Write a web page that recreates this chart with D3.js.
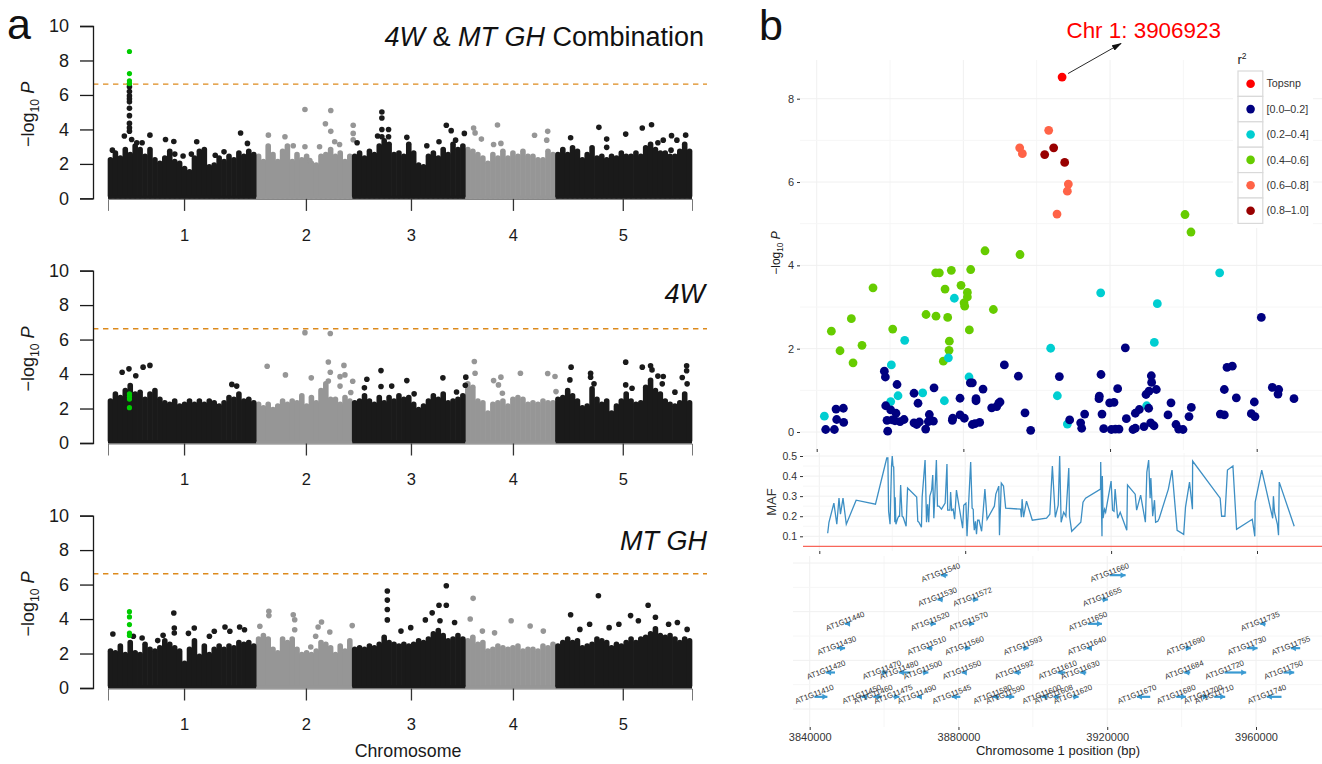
<!DOCTYPE html>
<html>
<head>
<meta charset="utf-8">
<script src="https://cdn.jsdelivr.net/npm/d3@7"></script>
<style>
body { margin: 0; background: #fff; }
text { font-family: "Liberation Sans", Helvetica, Arial, sans-serif; }
</style>
</head>
<body>
<div class="chart"></div>
<script>
var chromosomes = ["1","2","3","4","5"]
var chrLength = [30.4,19.7,23.2,18.5,28]
var chrTick = [15.6,40.6,62.15,83.07,105.6]
var yTicks = [0,2,4,6,8,10]
var threshold = 6.63
var leadChr1Mb = 4.4

// top of the dense part of each Manhattan plot, roughly one value per Mb, per chromosome
var ridgeBoth = [
	[2.4,2.8,2.5,3.0,2.7,3.2,3.0,2.6,3.0,2.4,2.2,2.5,2.9,2.3,2.2,1.9,1.7,2.5,2.9,3.0,2.0,2.1,2.5,2.3,2.6,2.4,2.8,2.6,2.9,2.7],
	[2.6,2.3,3.2,2.7,2.3,2.9,3.2,2.3,2.7,2.4,2.6,2.2,2.1,2.6,2.7,3.0,2.6,2.8,2.3,2.6],
	[2.6,2.8,2.5,2.9,2.7,3.2,3.5,3.3,2.7,2.8,2.6,3.3,2.8,2.1,2.0,2.6,2.8,2.5,3.0,2.7,3.3,3.0,3.2],
	[3.0,2.9,2.7,2.5,2.2,2.7,2.5,2.9,2.5,2.8,2.6,2.9,2.6,2.6,2.4,2.4,2.9,2.7],
	[2.7,3.0,2.7,3.1,2.9,2.4,2.7,3.1,2.5,2.6,2.4,2.6,2.5,2.8,2.6,2.6,2.8,2.6,3.1,3.3,3.0,2.8,2.8,2.6,2.6,2.9,3.3,2.9]
]
var ridge4W = [
	[2.6,3.0,2.8,3.2,3.5,3.0,3.1,2.7,3.0,3.2,2.7,2.5,2.4,2.6,2.3,2.4,2.6,2.4,2.6,2.4,2.6,2.5,2.3,2.5,2.8,2.7,3.0,2.6,2.7,2.5],
	[2.4,2.2,2.4,2.1,2.3,2.6,2.4,2.6,2.5,2.9,2.3,2.8,2.5,3.2,3.6,2.7,2.7,2.4,2.8,2.6],
	[2.5,2.6,2.9,2.6,2.4,2.8,2.5,2.8,2.6,2.9,2.7,2.8,2.4,2.1,2.3,2.6,2.9,2.7,3.0,2.5,2.6,2.7,2.9],
	[3.6,3.4,2.6,2.5,1.9,2.4,2.5,2.6,2.3,2.7,2.8,2.7,2.4,2.5,2.4,2.6,2.5,2.5],
	[2.7,2.8,3.2,2.9,2.6,2.2,2.3,3.3,2.7,2.4,2.6,1.9,2.3,2.6,3.0,2.6,2.4,2.5,3.4,3.8,3.2,3.0,2.6,2.4,2.3,2.5,3.0,2.5]
]
var ridgeGH = [
	[2.3,2.2,2.6,2.1,2.8,2.2,2.1,2.7,2.4,2.3,2.5,2.9,2.7,2.5,2.3,1.6,2.4,2.9,2.0,2.6,2.1,2.4,2.6,2.4,2.6,2.5,2.8,2.7,2.8,2.6],
	[3.0,3.2,3.0,2.4,2.2,3.0,2.8,3.0,2.4,2.1,2.2,2.1,2.3,2.8,2.7,2.5,2.1,2.6,2.3,2.9],
	[2.4,2.5,2.4,2.6,2.5,2.7,3.1,2.8,2.7,2.6,2.7,2.6,2.7,2.9,2.8,3.0,3.3,3.5,3.2,2.9,3.0,3.2,3.0],
	[2.9,3.1,2.7,2.8,2.3,2.4,2.6,2.5,2.4,2.5,2.6,2.3,2.4,2.4,2.3,2.6,2.5,2.7],
	[2.6,2.8,3.0,2.8,2.9,2.5,2.6,2.7,3.0,2.9,2.8,2.5,2.7,2.6,2.8,3.0,2.8,3.0,3.1,3.3,3.6,3.2,3.1,3.2,3.0,2.8,3.0,2.9]
]

// single SNPs standing above the ridge: chromosome index, Mb, -log10 P
var peaksBoth = [
	[0,4.4,6.47],[0,4.4,6.2],[0,4.4,5.95],[0,4.4,5.78],[0,4.4,5.6],[0,4.4,5.23],[0,4.4,4.8],[0,4.4,4.35],[0,4.4,4.1],[0,4.4,3.9],
	[0,3.35,3.62],[0,4.85,3.42],[0,8.6,3.67],[0,11.8,3.42],[0,13.5,3.3],[0,13.7,2.57],[0,5.9,3.23],[0,7,3.23],[0,18.2,3.29],[0,27.2,3.79],[0,28.6,3.19],[0,15.4,2.46],[0,17.1,2.57],[0,22,2.5],[0,23.8,2.7],[0,0.9,2.8],
	[1,10,5.16],[1,15.3,5.1],[1,14.2,4.33],[1,15.3,3.89],[1,19.9,4.24],[1,19.9,3.77],[1,19.9,3.4],[1,2.5,3.67],[1,5.9,3.58],[1,7.6,3.05],[1,10,3.0],[1,11,2.2],[1,13,3],[1,17.1,3.13],[1,16.1,3.29],
	[2,6.08,5.01],[2,6.08,4.66],[2,6.08,4.0],[2,7.45,4.0],[2,7.45,3.58],[2,5.2,3.62],[2,6.08,3.58],[2,19.3,4.24],[2,20.3,3.93],[2,23,3.77],[2,11.2,3.54],[2,17.8,3.29],[2,21.2,3.38],[2,1,3.23],[2,15.3,3.05],
	[3,1.7,4.08],[3,2,3.8],[3,6.6,4.26],[3,14.2,3.66],[3,16.9,3.89],[3,3.3,3.44],[3,5.8,3.13],[3,7.3,3.19],[3,16.7,3.38],
	[4,8.9,4.12],[4,14.4,3.73],[4,17.8,4.08],[4,19.7,4.27],[4,3.1,3.52],[4,10.5,3.44],[4,10.5,2.96],[4,26.7,3.67],[4,23.8,3.64],[4,22.1,3.38],[4,24.9,3.38],[4,21,3.23],[4,23.7,2.8]
]
var peaks4W = [
	[0,4.3,4.3],[0,2.9,4.1],[0,7.2,4.4],[0,8.6,4.5],[0,5.7,3.9],[0,25.4,3.4],[0,26.4,3.3],
	[1,10,6.4],[1,15.2,6.35],[1,2.25,4.45],[1,14.8,4.7],[1,15.2,4.1],[1,14.8,3.6],[1,11.3,3.78],[1,6,3.95],[1,18.2,3.95],[1,18,4.5],[1,19.8,3.58],[1,19.4,2.93],[1,17.2,3.85],[1,17.2,3.3],
	[2,5.9,4.2],[2,3,3.7],[2,5.9,3.28],[2,8.1,3.3],[2,11.2,3.62],[2,18.6,3.78],[2,23.3,3.82],[2,23.2,3.35],[2,21.4,2.96],[2,12.7,2.85],[2,2.5,3.2],
	[3,1.85,4.73],[3,2,4.05],[3,5.8,3.62],[3,7.3,3.82],[3,11.3,4.05],[3,16.9,4.03],[3,18.4,3.86],[3,6.8,3.37],[3,7.6,2.89],[3,18.6,2.98],
	[4,3.2,4.4],[4,2.95,3.66],[4,7.2,4.05],[4,7.2,3.82],[4,7.9,3.43],[4,14.4,4.69],[4,14.4,3.37],[4,15.7,3.18],[4,17.8,4.4],[4,19.5,4.48],[4,19.8,4.24],[4,21,3.88],[4,22.1,3.86],[4,21.9,3.43],[4,26.9,4.48],[4,26.9,4.19],[4,26,3.8],[4,27,3.43],[4,24.5,2.95]
]
var peaksGH = [
	[0,13.5,4.35],[0,13.6,3.48],[0,13.6,3.19],[0,1,3.13],[0,5.2,3.0],[0,7,2.9],[0,10.2,2.75],[0,11.3,3.06],[0,16.5,3.17],[0,17.7,3.48],[0,21.8,3.29],[0,20.8,3],[0,24,3.54],[0,25,3.29],[0,27,3.54],[0,28,3.38],
	[1,2.6,4.45],[1,2.6,4.2],[1,0.75,3.58],[1,7.6,4.25],[1,7.9,3.96],[1,7.9,3.38],[1,13.4,3.83],[1,12.7,3.54],[1,15.1,3.25],[1,12.2,3],[1,19.7,3.62],[1,11.2,2.38],
	[2,7.2,5.63],[2,7.2,5.1],[2,7.2,4.55],[2,7.2,3.95],[2,19.3,5.93],[2,17.8,4.8],[2,19.3,4.8],[2,16.4,4.36],[2,15,3.95],[2,12,3.5],[2,18,3.9],[2,21,3.8],[2,10,3.3],
	[3,1.6,5.2],[3,1,4],[3,9.4,3.9],[3,13.3,3.6],[3,3.5,3.3],[3,6,3.2],[3,16,3.3],
	[4,3.1,4.25],[4,8.8,5.35],[4,19,4.8],[4,20.5,4.1],[4,23.2,3.7],[4,15.4,4.2],[4,5,3.4],[4,7,3.7],[4,11,3.5],[4,13,3.7],[4,17,3.9],[4,25,3.8],[4,27,3.4]
]
// SNPs of the chromosome 1 locus, drawn green in panel a
var leadBoth = [8.52,7.24,6.82,6.68,6.66]
var lead4W = [2.05,2.55,2.7,2.85]
var leadGH = [4.43,4.12,3.68,3.19,3.05]

// panel b, position (bp) and -log10 P by r2 class
var topSnp = [[3906923,8.52]]
var snpHigh = [[3902180,6.66],[3904630,6.82],[3907630,6.47]]
var snpMid = [[3895360,6.82],[3896090,6.68],[3903270,7.24],[3905540,5.23],[3908630,5.95],[3908360,5.78]]
var snpGreen = [[3844000,2.42],[3846360,1.95],[3849450,2.72],[3849910,1.66],[3852360,2.08],[3855360,3.46],[3860730,2.47],[3869820,2.82],[3872450,3.82],[3873450,3.82],[3876720,3.88],[3875000,3.43],[3872540,2.78],[3875720,2.75],[3879360,3.52],[3882000,3.90],[3881090,3.35],[3881090,3.24],[3880180,3.10],[3880360,3.02],[3885900,4.35],[3895450,4.26],[3888180,2.94],[3881630,2.45],[3876180,2.18],[3876090,1.96],[3874540,1.70],[3940450,5.22],[3942080,4.80]]
var snpCyan = [[3842090,0.38],[3860180,0.73],[3860360,1.61],[3862180,0.87],[3864000,2.20],[3868910,0.94],[3874820,0.75],[3877540,3.21],[3875910,1.78],[3881540,1.32],[3903810,2.01],[3905630,0.87],[3949900,3.82],[3917450,3.34],[3932900,3.08],[3932080,2.15],[3908360,0.19],[3930000,0.63]]
var snpNavy = [[3842450,0.06],[3844820,0.06],[3845270,0.55],[3847270,0.57],[3845450,0.30],[3847360,0.23],[3858450,1.46],[3858730,1.32],[3861910,1.14],[3858820,0.63],[3860180,0.53],[3861630,0.45],[3859180,0.28],[3860630,0.29],[3863820,0.30],[3862730,0.25],[3859360,0.02],[3861360,0.27],[3866540,0.93],[3867630,0.69],[3872000,1.06],[3866540,0.22],[3867270,0.18],[3868000,0.24],[3870720,0.42],[3870910,0.29],[3871820,0.26],[3869720,0.07],[3870450,0.25],[3877090,0.33],[3877000,0.28],[3879090,0.81],[3879090,0.41],[3880270,0.33],[3882450,0.18],[3883180,0.20],[3884450,0.23],[3881900,1.18],[3882450,1.18],[3883450,0.80],[3883450,0.75],[3885360,1.03],[3887720,0.58],[3889090,0.61],[3889630,0.69],[3890000,0.72],[3891180,1.61],[3895000,1.34],[3896810,0.46],[3898360,0.04],
	[3961260,2.75],[3924170,2.02],[3906180,1.33],[3917540,1.38],[3931260,1.35],[3931350,1.19],[3953350,1.58],[3951900,1.55],[3964260,1.07],[3965990,1.02],[3965810,0.91],[3970170,0.80],[3951170,1.02],[3954440,0.82],[3959350,0.72],[3922080,1.04],[3932630,1.02],[3930630,0.98],[3929810,0.90],[3917080,0.86],[3916990,0.80],[3919900,0.70],[3921080,0.71],[3936630,0.70],[3942170,0.59],[3913080,0.43],[3917810,0.43],[3927990,0.54],[3926900,0.45],[3930540,0.57],[3935810,0.41],[3941540,0.37],[3950080,0.43],[3951170,0.41],[3958530,0.44],[3959530,0.37],[3924450,0.32],[3908990,0.29],[3911990,0.22],[3912270,0.09],[3918270,0.08],[3920360,0.06],[3921450,0.07],[3922450,0.07],[3926260,0.06],[3926900,0.09],[3929260,0.13],[3931080,0.22],[3931990,0.15],[3937990,0.18],[3938720,0.07],[3939900,0.06]]

var legendLabels = ["Topsnp","[0.0\u20130.2]","(0.2\u20130.4]","(0.4\u20130.6]","(0.6\u20130.8]","(0.8\u20131.0]"]
var legendColors = ["#ff0000","#000080","#00ced1","#66cc00","#ff6347","#990000"]
var pTicks = [0,2,4,6,8]
var pMinor = [1,3,5,7]
var posTicks = [3840000,3880000,3920000,3960000]
var posGrid = [3840000,3860000,3880000,3900000,3920000,3940000,3960000]

var maf = [[3842300,.115],[3842650,.17],[3844000,.265],[3844800,.16],[3845400,.29],[3845800,.21],[3846500,.29],[3847400,.16],[3850100,.28],[3855400,.26],[3858500,.49],[3858800,.49],[3859000,.225],[3859400,.16],[3859800,.45],[3860000,.5],[3860200,.45],[3860400,.445],[3860700,.17],[3860800,.295],[3861000,.16],[3861500,.19],[3861800,.2],[3862000,.2],[3862300,.355],[3862700,.2],[3863000,.195],[3863800,.15],[3864200,.34],[3866700,.295],[3867000,.175],[3867300,.17],[3868000,.145],[3868200,.295],[3869000,.48],[3869400,.17],[3869700,.26],[3870000,.17],[3870300,.3],[3870800,.33],[3871100,.405],[3871400,.19],[3872100,.48],[3872400,.25],[3872800,.25],[3873500,.235],[3874500,.265],[3875000,.46],[3875200,.23],[3875800,.23],[3876000,.32],[3876300,.23],[3876700,.235],[3877100,.185],[3877600,.33],[3879300,.14],[3879600,.255],[3880200,.265],[3880500,.1],[3881500,.47],[3881900,.24],[3882200,.235],[3882300,.175],[3882500,.13],[3882800,.175],[3883100,.11],[3883400,.18],[3883800,.18],[3884500,.125],[3885400,.335],[3886000,.185],[3888000,.25],[3888400,.31],[3889200,.35],[3889400,.105],[3889900,.365],[3890500,.35],[3891100,.24],[3895200,.235],[3895400,.195],[3895600,.285],[3896000,.195],[3896800,.275],[3898400,.18],[3902300,.19],[3903200,.21],[3903900,.45],[3904700,.195],[3905500,.255],[3905900,.5],[3906300,.17],[3907000,.22],[3907600,.2],[3908400,.44],[3908600,.2],[3909200,.125],[3911700,.17],[3912300,.27],[3913000,.29],[3917100,.335],[3917150,.47],[3917500,.1],[3917600,.4],[3917800,.19],[3918200,.235],[3918500,.22],[3920000,.375],[3920400,.23],[3920800,.225],[3921100,.335],[3921800,.19],[3922500,.22],[3924300,.13],[3924500,.355],[3926600,.31],[3927000,.23],[3928100,.305],[3929400,.17],[3929800,.42],[3930300,.48],[3930700,.29],[3930900,.39],[3931400,.2],[3931900,.28],[3932200,.17],[3932800,.175],[3933200,.19],[3935700,.335],[3936700,.43],[3938100,.13],[3939900,.11],[3940400,.245],[3941500,.37],[3942300,.235],[3942350,.475],[3949900,.29],[3950300,.2],[3951200,.2],[3951900,.43],[3953400,.45],[3954400,.135],[3958700,.185],[3959400,.1],[3959500,.27],[3961300,.43],[3964300,.19],[3964500,.3],[3964800,.22],[3965600,.16],[3965900,.105],[3966100,.37],[3970200,.15]]
var mafTicks = [.1,.2,.3,.4,.5]
var mafMinor = [.15,.25,.35,.45]
var mafCutoff = 0.05

// name, from, to, row, strand
var genes = [
	["AT1G11410",3841260,3844750,1,1],["AT1G11450",3854000,3855500,1,-1],["AT1G11460",3857100,3859400,1,1],["AT1G11475",3862500,3864100,1,1],["AT1G11490",3868800,3870100,1,-1],["AT1G11545",3878200,3880500,1,-1],["AT1G11580",3889200,3890900,1,-1],["AT1G11590",3892600,3895000,1,1],["AT1G11600",3902400,3904000,1,-1],["AT1G11608",3905570,3906920,1,-1],["AT1G11620",3910770,3912290,1,1],["AT1G11670",3928000,3931560,1,-1],["AT1G11680",3938550,3941150,1,1],["AT1G11700",3945800,3947060,1,1],["AT1G11710",3948760,3951720,1,1],["AT1G11740",3962920,3966860,1,-1],
	["AT1G11420",3844400,3846800,2,-1],["AT1G11470",3859400,3860900,2,1],["AT1G11480",3864000,3867000,2,-1],["AT1G11500",3870400,3871900,2,1],["AT1G11550",3880900,3881900,2,-1],["AT1G11592",3895000,3896800,2,-1],["AT1G11610",3906650,3908710,2,-1],["AT1G11630",3912740,3914360,2,-1],["AT1G11684",3940700,3942310,2,-1],["AT1G11720",3951540,3957360,2,1],["AT1G11750",3967400,3970270,2,1],
	["AT1G11430",3847270,3849510,3,1],["AT1G11510",3871480,3873010,3,-1],["AT1G11560",3881620,3883150,3,1],["AT1G11593",3897320,3898840,3,1],["AT1G11640",3914530,3915880,3,-1],["AT1G11690",3941060,3942490,3,1],["AT1G11730",3957540,3960410,3,1],["AT1G11755",3969370,3971880,3,-1],
	["AT1G11440",3849510,3850850,4,-1],["AT1G11520",3872380,3873900,4,1],["AT1G11570",3882700,3884220,4,1],["AT1G11650",3914800,3918570,4,1],["AT1G11735",3961130,3962560,4,-1],
	["AT1G11530",3874360,3875790,5,-1],["AT1G11572",3883770,3885300,5,1],["AT1G11655",3918660,3920180,5,1],
	["AT1G11540",3875250,3877050,6,-1],["AT1G11660",3920630,3924930,6,1]
]
var geneRowGrid = [0,1,2,3,4,5,6]

var width = 1322, height = 764
var svg = d3.select(".chart").append("svg").attr("width",width).attr("height",height).style("display","block")

var chrStart = [0].concat(Array.from(d3.cumsum(chrLength)))
var xMan = d3.scaleLinear().domain([0,d3.sum(chrLength)]).range([108,692])

// -log10 P label with the subscript, shared by both panels
function logLabel(sel,size) {
	sel.attr("font-size",size).attr("text-anchor","middle").attr("fill","#1a1a1a")
	sel.append("tspan").text("\u2212log")
	sel.append("tspan").attr("font-size",size*0.68).attr("dy",size*0.25).text("10")
	sel.append("tspan").attr("dy",-size*0.25).text(" ")
	sel.append("tspan").attr("font-style","italic").text("P")
}

function manhattan(ridge,peaks,lead,y0) {
	var y = d3.scaleLinear().domain([0,10]).range([y0,y0-172.4])
	var g = svg.append("g").attr("class","manhattan")
	var capR = 2.8

	//threshold sits behind the dots
	g.append("line").attr("x1",93).attr("x2",707).attr("y1",y(threshold)).attr("y2",y(threshold))
	.attr("stroke","#dd8a1c").attr("stroke-width",1.4).attr("stroke-dasharray","5.4,4.6")

	//grey chromosomes first so the black ones overlap them
	;[1,3,0,2,4].forEach(function(c) {
		var col = c % 2 == 0 ? "#1a1a1a" : "#969696"
		var chr = g.append("g").attr("class","chr"+chromosomes[c])
		var barX = function(d,i){return xMan(chrStart[c]+(i+0.5)/ridge[c].length*chrLength[c])}
		chr.selectAll("line").data(ridge[c]).enter().append("line")
		.attr("x1",barX)
		.attr("x2",barX)
		.attr("y1",y(0)-capR)
		.attr("y2",function(d){return y(d)+capR})
		.attr("stroke",col).attr("stroke-width",capR*2).attr("stroke-linecap","round")
		chr.selectAll("circle").data(peaks.filter(function(p){return p[0]==c})).enter().append("circle")
		.attr("cx",function(d){return xMan(chrStart[c]+d[1])})
		.attr("cy",function(d){return y(d[2])})
		.attr("r",capR).attr("fill",col)
		//flat foot under the rounded bars
		chr.append("rect").attr("x",xMan(chrStart[c])).attr("y",y(0)-capR)
		.attr("width",xMan(chrLength[c])-xMan(0)).attr("height",capR+0.5).attr("fill",col)
	})

	g.append("g").selectAll("circle").data(lead).enter().append("circle")
	.attr("cx",xMan(leadChr1Mb)).attr("cy",function(d){return y(d)}).attr("r",2.6).attr("fill","#00cc00")

	var yAxis = g.append("g").attr("transform","translate(93,0)")
	.call(d3.axisLeft(y).tickValues(yTicks).tickSize(13).tickPadding(11))
	var xAxis = g.append("g").attr("transform","translate(0,"+(y0+0.5)+")")
	.call(d3.axisBottom(xMan).tickValues(chrTick).tickSize(12).tickPadding(18).tickFormat(function(d,i){return chromosomes[i]}))
	xAxis.select(".domain").attr("stroke","#555").attr("stroke-width",0.8)
	yAxis.select(".domain").attr("stroke","#1a1a1a").attr("stroke-width",1.3)
	yAxis.selectAll("line").attr("stroke","#1a1a1a").attr("stroke-width",1.3)
	xAxis.selectAll(".tick line").attr("stroke","#333").attr("stroke-width",1.3)
	yAxis.selectAll("text").attr("font-size",18).attr("fill","#1a1a1a").style("font-family","Liberation Sans")
	xAxis.selectAll("text").attr("font-size",16.5).attr("fill","#1a1a1a").style("font-family","Liberation Sans")

	g.append("text").attr("transform","translate(34,"+(y0-84)+") rotate(-90)").call(logLabel,18)
}

manhattan(ridgeBoth,peaksBoth,leadBoth,198.4)
manhattan(ridge4W,peaks4W,lead4W,443)
manhattan(ridgeGH,peaksGH,leadGH,688)

//panel titles
var title1 = svg.append("text").attr("x",704).attr("y",45.5).attr("text-anchor","end").attr("font-size",27).attr("fill","#111")
title1.append("tspan").attr("font-style","italic").text("4W")
title1.append("tspan").text(" & ")
title1.append("tspan").attr("font-style","italic").text("MT GH")
title1.append("tspan").text(" Combination")
svg.append("text").attr("x",705).attr("y",303).attr("text-anchor","end").attr("font-size",27).attr("font-style","italic").attr("fill","#111").text("4W")
svg.append("text").attr("x",707).attr("y",550).attr("text-anchor","end").attr("font-size",27).attr("font-style","italic").attr("fill","#111").text("MT GH")
svg.append("text").attr("x",408).attr("y",757).attr("text-anchor","middle").attr("font-size",17.8).attr("fill","#1a1a1a").text("Chromosome")
svg.append("text").attr("x",7).attr("y",39).attr("font-size",43).attr("fill","#111").text("a")
svg.append("text").attr("x",759).attr("y",40).attr("font-size",43).attr("fill","#111").text("b")

// -------- panel b --------
var grid = "#f0f0f0", gridMinor = "#f6f6f6"
var xSnp = d3.scaleLinear().domain([3840000,3960000]).range([816.7,1256.7])
var ySnp = d3.scaleLinear().domain([0,8]).range([432,98.7])
var xMaf = d3.scaleLinear().domain([3840000,3960000]).range([819.3,1257])
var yMaf = d3.scaleLinear().domain([0.1,0.5]).range([536.3,456])
var xGene = d3.scaleLinear().domain([3840000,3960000]).range([809.7,1256])
var yGene = d3.scaleLinear().domain([0,6]).range([709,563])

function hLines(g,vals,y,x1,col,w) {
	g.selectAll(null).data(vals).enter().append("line")
	.attr("x1",x1).attr("x2",1322).attr("y1",function(d){return y(d)}).attr("y2",function(d){return y(d)})
	.attr("stroke",col).attr("stroke-width",w)
}
function vLines(g,vals,x,y1,y2) {
	g.selectAll(null).data(vals).enter().append("line")
	.attr("x1",function(d){return x(d)}).attr("x2",function(d){return x(d)}).attr("y1",y1).attr("y2",y2)
	.attr("stroke",function(d,i){return i%2==0 ? grid : gridMinor}).attr("stroke-width",1)
}
function styleAxis(a,size) {
	a.select(".domain").remove()
	a.selectAll("line").attr("stroke","#333").attr("stroke-width",1)
	a.selectAll("text").attr("font-size",size).attr("fill","#333").style("font-family","Liberation Sans")
}

//association panel
var top_ = svg.append("g").attr("class","snps")
vLines(top_,posGrid,xSnp,60,450)
hLines(top_,pTicks,ySnp,800,grid,1)
hLines(top_,pMinor,ySnp,800,gridMinor,1)
var snpAxis = top_.append("g").attr("transform","translate(800,0)")
.call(d3.axisLeft(ySnp).tickValues(pTicks).tickSize(3).tickPadding(3))
styleAxis(snpAxis,11)
var snpBottom = top_.append("g").attr("transform","translate(0,449)")
.call(d3.axisBottom(xSnp).tickValues(posTicks).tickSize(3).tickFormat(""))
styleAxis(snpBottom,11)
top_.append("text").attr("transform","translate(780,253) rotate(-90)").call(logLabel,12)

//legend box sits on a white patch over the grid
svg.append("rect").attr("x",1233).attr("y",48).attr("width",80).attr("height",180).attr("fill","#fff")

var snpGroups = [[snpGreen,"#66cc00"],[snpMid,"#ff6347"],[snpHigh,"#990000"],[snpCyan,"#00ced1"],[snpNavy,"#000080"],[topSnp,"#ff0000"]]
snpGroups.forEach(function(s) {
	top_.append("g").selectAll("circle").data(s[0]).enter().append("circle")
	.attr("cx",function(d){return xSnp(d[0])})
	.attr("cy",function(d){return ySnp(d[1])})
	.attr("r",4.4).attr("fill",s[1])
})

//annotation
svg.append("defs").append("marker").attr("id","head").attr("viewBox","0 0 10 6").attr("refX",9).attr("refY",3)
.attr("markerWidth",10).attr("markerHeight",6).attr("markerUnits","userSpaceOnUse").attr("orient","auto")
.append("path").attr("d","M0,0L10,3L0,6Z").attr("fill","#111")
svg.append("line").attr("x1",xSnp(topSnp[0][0])+6).attr("y1",ySnp(topSnp[0][1])-3.5).attr("x2",1121).attr("y2",43.5)
.attr("stroke","#111").attr("stroke-width",0.9).attr("marker-end","url(#head)")
svg.append("text").attr("x",1066.5).attr("y",37.5).attr("font-size",22.4).attr("fill","#ff0000").text("Chr 1: "+topSnp[0][0])

//legend
var legend = svg.append("g").attr("class","legend")
var keyH = 25.4
legend.append("text").attr("x",1237.5).attr("y",64).attr("font-size",13).attr("fill","#1a1a1a").call(function(t){
	t.append("tspan").text("r")
	t.append("tspan").attr("font-size",8.5).attr("dy",-5).text("2")
})
legend.selectAll("rect").data(legendLabels).enter().append("rect")
.attr("x",1238).attr("y",function(d,i){return 71+i*keyH}).attr("width",24.8).attr("height",keyH)
.attr("fill","#fff").attr("stroke","#d9d9d9").attr("stroke-width",1.2)
legend.selectAll("circle").data(legendColors).enter().append("circle")
.attr("cx",1250.6).attr("cy",function(d,i){return 71+keyH/2+i*keyH}).attr("r",4.3).attr("fill",function(d){return d})
legend.selectAll("text.key").data(legendLabels).enter().append("text").attr("class","key")
.attr("x",1266.5).attr("y",function(d,i){return 71+keyH/2+i*keyH+3.7}).attr("font-size",10.7).attr("fill","#333").text(function(d){return d})

//MAF panel
var mafG = svg.append("g").attr("class","maf")
vLines(mafG,posGrid,xMaf,453,551)
hLines(mafG,mafTicks,yMaf,803,grid,1)
hLines(mafG,mafMinor,yMaf,803,gridMinor,1)
var mafAxis = mafG.append("g").attr("transform","translate(803,0)")
.call(d3.axisLeft(yMaf).tickValues(mafTicks).tickSize(3).tickPadding(3).tickFormat(d3.format(".1f")))
styleAxis(mafAxis,10.5)
var mafBottom = mafG.append("g").attr("transform","translate(0,551)")
.call(d3.axisBottom(xMaf).tickValues(posTicks).tickSize(3).tickFormat(""))
styleAxis(mafBottom,11)
mafG.append("line").attr("x1",803).attr("x2",1322).attr("y1",yMaf(mafCutoff)).attr("y2",yMaf(mafCutoff))
.attr("stroke","#f8665a").attr("stroke-width",1.2)
var mafLine = d3.line().x(function(d){return xMaf(d[0])}).y(function(d){return yMaf(d[1])})
mafG.append("path").attr("d",mafLine(maf)).attr("fill","none").attr("stroke","#3d8fc4").attr("stroke-width",1.3)
mafG.append("text").attr("transform","translate(776,502) rotate(-90)").attr("text-anchor","middle")
.attr("font-size",13).attr("fill","#333").text("MAF")

//gene panel
var geneG = svg.append("g").attr("class","genes")
vLines(geneG,posGrid,xGene,556,727)
hLines(geneG,geneRowGrid.filter(function(d){return d%2==0}),yGene,793,grid,1)
hLines(geneG,geneRowGrid.filter(function(d){return d%2==1}),yGene,793,gridMinor,1)
var geneAxis = geneG.append("g").attr("transform","translate(0,727)")
.call(d3.axisBottom(xGene).tickValues(posTicks).tickSize(3).tickPadding(3).tickFormat(d3.format("d")))
styleAxis(geneAxis,11)
geneG.selectAll("text.xlab").data(["Chromosome 1 position (bp)"]).enter().append("text").attr("class","xlab")
.attr("x",1058).attr("y",755).attr("text-anchor","middle").attr("font-size",13).attr("fill","#222").text(function(d){return d})

var arrowCol = "#3a9ad2"
var arrows = geneG.selectAll("g.gene").data(genes).enter().append("g").attr("class","gene")
arrows.append("line")
.attr("x1",function(d){return xGene(d[1])}).attr("x2",function(d){return xGene(d[2])})
.attr("y1",function(d){return yGene(d[3]-0.5)}).attr("y2",function(d){return yGene(d[3]-0.5)})
.attr("stroke",arrowCol).attr("stroke-width",2.2)
arrows.append("path")
.attr("d",function(d){
	var tip = d[4]>0 ? xGene(d[2]) : xGene(d[1])
	var y = yGene(d[3]-0.5), back = tip-d[4]*5
	return "M"+tip+","+y+"L"+back+","+(y-3)+"L"+back+","+(y+3)+"Z"
})
.attr("fill",arrowCol)
arrows.append("text")
.attr("transform",function(d){return "translate("+xGene(d[1])+","+(yGene(d[3]-0.5)-2.6)+") rotate(-21)"})
.attr("text-anchor","middle").attr("dominant-baseline","central")
.attr("font-size",7.8).attr("fill","#333").text(function(d){return d[0]})
</script>
</body>
</html>
